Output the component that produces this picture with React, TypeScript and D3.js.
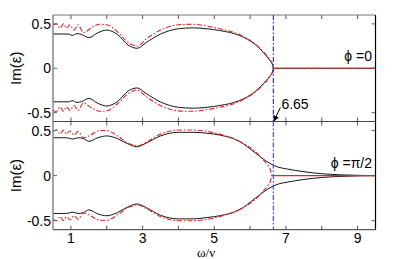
import React from 'react';
import * as d3 from 'd3';

// ---- data ----
const xTicks = [1, 2, 3, 4, 5, 6, 7, 8, 9];
const xTickLabels = ['1', '', '3', '', '5', '', '7', '', '9'];
const yTicks = [0.5, 0, -0.5];
const yTickLabels = ['0.5', '0', '-0.5'];
const critical = 6.65;

// phi = 0
const xBlackA = [0.5, 0.8, 0.95, 1.03, 1.17, 1.3, 1.5, 1.75, 2.0, 2.3, 2.6, 2.85, 3.1, 3.5, 4.0, 4.4, 4.8, 5.15, 5.7, 6.15, 6.45, 6.55, 6.62, 6.65];
const blackUpA = [0.386, 0.386, 0.384, 0.37, 0.39, 0.38, 0.345, 0.4, 0.43, 0.38, 0.26, 0.225, 0.29, 0.385, 0.445, 0.455, 0.445, 0.425, 0.37, 0.265, 0.14, 0.09, 0.045, 0];
const blackLoA = [-0.378, -0.378, -0.378, -0.365, -0.385, -0.375, -0.34, -0.395, -0.425, -0.375, -0.255, -0.222, -0.285, -0.38, -0.44, -0.45, -0.44, -0.42, -0.365, -0.26, -0.138, -0.09, -0.045, 0];
const xRedA = [0.5, 0.6, 0.7, 0.79, 0.88, 0.97, 1.09, 1.2, 1.35, 1.55, 1.8, 2.0, 2.3, 2.6, 2.85, 3.1, 3.5, 4.0, 4.4, 4.8, 5.15, 5.7, 6.15, 6.45, 6.55, 6.62, 6.65];
const redUpA = [0.49, 0.5, 0.45, 0.5, 0.45, 0.49, 0.43, 0.49, 0.4, 0.45, 0.495, 0.49, 0.41, 0.29, 0.25, 0.33, 0.43, 0.49, 0.495, 0.475, 0.445, 0.38, 0.27, 0.15, 0.1, 0.05, 0];
const redLoA = [-0.475, -0.485, -0.435, -0.485, -0.435, -0.475, -0.42, -0.475, -0.39, -0.44, -0.485, -0.48, -0.4, -0.285, -0.245, -0.32, -0.42, -0.48, -0.485, -0.465, -0.44, -0.375, -0.265, -0.148, -0.1, -0.05, 0];
const xTailA = [6.65, 9.5];
const tailA = [0, 0];

// phi = pi/2
const xBlackB = [0.5, 0.8, 0.95, 1.05, 1.2, 1.35, 1.5, 1.75, 2.0, 2.3, 2.6, 2.85, 3.1, 3.5, 4.0, 4.4, 4.8, 5.15, 5.7, 6.15, 6.45, 6.65, 6.8, 7.05, 7.5, 8.0, 8.5, 9.0, 9.5];
const blackUpB = [0.42, 0.42, 0.415, 0.405, 0.42, 0.41, 0.38, 0.42, 0.44, 0.41, 0.35, 0.32, 0.36, 0.44, 0.48, 0.48, 0.47, 0.45, 0.38, 0.25, 0.16, 0.115, 0.092, 0.072, 0.043, 0.021, 0.009, 0.003, 0];
const blackLoB = [-0.42, -0.42, -0.415, -0.405, -0.42, -0.41, -0.38, -0.425, -0.445, -0.41, -0.345, -0.315, -0.355, -0.44, -0.48, -0.48, -0.465, -0.445, -0.38, -0.25, -0.16, -0.115, -0.092, -0.072, -0.043, -0.021, -0.009, -0.003, 0];
const xRedB = [0.5, 0.6, 0.7, 0.79, 0.88, 0.97, 1.09, 1.2, 1.35, 1.55, 1.8, 2.0, 2.3, 2.6, 2.85, 3.1, 3.5, 4.0, 4.4, 4.8, 5.15, 5.7, 6.15, 6.4, 6.5, 6.57, 6.6];
const redUpB = [0.49, 0.505, 0.46, 0.505, 0.46, 0.495, 0.45, 0.49, 0.42, 0.45, 0.5, 0.5, 0.44, 0.36, 0.33, 0.37, 0.46, 0.505, 0.505, 0.49, 0.46, 0.38, 0.265, 0.16, 0.11, 0.06, 0];
const redLoB = [-0.485, -0.5, -0.455, -0.5, -0.455, -0.49, -0.445, -0.485, -0.415, -0.445, -0.495, -0.495, -0.435, -0.355, -0.325, -0.365, -0.455, -0.5, -0.5, -0.485, -0.455, -0.375, -0.262, -0.158, -0.11, -0.06, 0];
const xTailB = [6.6, 9.5];
const tailB = [0, 0];

const W = 415;
const H = 259;
const left = 53;
const right = 375.5;
const top1 = 15;
const mid = 121.5;
const bottom = 229.7;

const sansFont = "'Liberation Sans', Arial, sans-serif";
const serifFont = "'Liberation Serif', 'Times New Roman', serif";

const x = d3.scaleLinear().domain([0.5, 9.5]).range([left, right]);
const yA = d3.scaleLinear().domain([-0.6, 0.6]).range([mid, top1]);
const yB = d3.scaleLinear().domain([-0.6, 0.6]).range([bottom, mid]);

const mkLine = (y: d3.ScaleLinear<number, number>) =>
  d3.line<[number, number]>()
    .x(d => x(d[0]))
    .y(d => y(d[1]))
    .curve(d3.curveMonotoneX);

const zipXY = (xs: number[], ys: number[]) => xs.map((v, i) => [v, ys[i]] as [number, number]);

const RED = '#f21d1d';
const BLACK = '#151515';
const redDash = '5,2,1.5,2';

const Panel: React.FC<{
  y: d3.ScaleLinear<number, number>;
  y0: number;
  y1: number;
  black: [number[], number[]][];
  red: [number[], number[]][];
  redTail: [number[], number[]];
  redTailSolid: boolean;
  label: string;
  labelY: number;
}> = ({ y, y0, y1, black, red, redTail, redTailSolid, label, labelY }) => {
  const line = mkLine(y);
  return (
    <g>
      {black.map(([xs, ys], i) => (
        <path key={'b' + i} d={line(zipXY(xs, ys)) || ''} fill="none" stroke={BLACK} strokeWidth={1} />
      ))}
      {red.map(([xs, ys], i) => (
        <path key={'r' + i} d={line(zipXY(xs, ys)) || ''} fill="none" stroke={RED} strokeWidth={1.1} strokeDasharray={redDash} />
      ))}
      <path
        d={line(zipXY(redTail[0], redTail[1])) || ''}
        fill="none"
        stroke={RED}
        strokeWidth={1.2}
        strokeDasharray={redTailSolid ? undefined : redDash}
      />
      {/* x ticks, inward on both edges */}
      {xTicks.map(t => (
        <g key={t}>
          <line x1={x(t)} x2={x(t)} y1={y1} y2={y1 - 4} stroke="#555" strokeWidth={1} />
          <line x1={x(t)} x2={x(t)} y1={y0} y2={y0 + 4} stroke="#555" strokeWidth={1} />
        </g>
      ))}
      {/* y ticks and labels */}
      {yTicks.map((t, i) => (
        <g key={t}>
          <line x1={left} x2={left + 4} y1={y(t)} y2={y(t)} stroke="#666" strokeWidth={1} />
          <line x1={right} x2={right - 4} y1={y(t)} y2={y(t)} stroke="#666" strokeWidth={1} />
          <text x={left - 2} y={y(t)} dy="0.36em" textAnchor="end" fontFamily={sansFont} fontSize={14} fill="#000">
            {yTickLabels[i]}
          </text>
        </g>
      ))}
      <text x={16} y={(y0 + y1) / 2} transform={`rotate(-90 16 ${(y0 + y1) / 2})`} dy="0.35em" textAnchor="middle" fontFamily={sansFont} fontSize={15} fill="#000">
        Im(ε)
      </text>
      <text x={372} y={labelY} textAnchor="end" fontFamily={sansFont} fontSize={14} fill="#000">
        {label}
      </text>
    </g>
  );
};

export default function App() {
  return (
    <svg width={W} height={H} style={{ position: 'absolute', left: 0, top: 0, background: '#fff' }}>
      <defs>
        <marker id="arrow" viewBox="0 0 10 10" refX="9" refY="5" markerWidth="6" markerHeight="6" orient="auto">
          <path d="M0,0 L10,5 L0,10 z" fill="#000" />
        </marker>
      </defs>
      <rect x={0} y={0} width={W} height={H} fill="#fff" />
      <Panel
        y={yA}
        y0={top1}
        y1={mid}
        black={[[xBlackA, blackUpA], [xBlackA, blackLoA], [xTailA, tailA]]}
        red={[[xRedA, redUpA], [xRedA, redLoA]]}
        redTail={[xTailA, tailA]}
        redTailSolid={false}
        label="ϕ =0"
        labelY={61}
      />
      <Panel
        y={yB}
        y0={mid}
        y1={bottom}
        black={[[xBlackB, blackUpB], [xBlackB, blackLoB]]}
        red={[[xRedB, redUpB], [xRedB, redLoB]]}
        redTail={[xTailB, tailB]}
        redTailSolid={true}
        label="ϕ =π/2"
        labelY={168}
      />
      {/* frame */}
      <line x1={left} x2={right} y1={top1} y2={top1} stroke="#777" strokeWidth={1} />
      <line x1={left} x2={right} y1={mid} y2={mid} stroke="#444" strokeWidth={1} />
      <line x1={left} x2={right} y1={bottom} y2={bottom} stroke="#333" strokeWidth={1} />
      <line x1={left} x2={left} y1={top1} y2={bottom} stroke="#888" strokeWidth={1.5} />
      <line x1={right} x2={right} y1={top1} y2={bottom} stroke="#000" strokeWidth={1.2} />
      {/* critical frequency */}
      <line x1={x(critical)} x2={x(critical)} y1={top1} y2={mid} stroke="#2a3ad0" strokeWidth={1.2} strokeDasharray="5,2,1.5,2" />
      <line x1={x(critical)} x2={x(critical)} y1={mid} y2={bottom} stroke="#4a5ae8" strokeWidth={1.3} strokeDasharray="5,2,1.5,2" />
      <line x1={x(critical) + 7} y1={mid - 14} x2={x(critical) + 0.5} y2={mid - 0.5} stroke="#000" strokeWidth={1} markerEnd="url(#arrow)" />
      <text x={x(critical) + 8} y={mid - 13} fontFamily={sansFont} fontSize={14} fill="#000">
        {critical.toFixed(2)}
      </text>
      {/* x tick labels */}
      {xTicks.map((t, i) => (
        xTickLabels[i] ? (
          <text key={t} x={x(t)} y={243} textAnchor="middle" fontFamily={sansFont} fontSize={14} fill="#000">
            {xTickLabels[i]}
          </text>
        ) : null
      ))}
      <text x={206} y={257} textAnchor="middle" fontFamily={serifFont} fontSize={13} fill="#000">
        ω/ν
      </text>
    </svg>
  );
}
